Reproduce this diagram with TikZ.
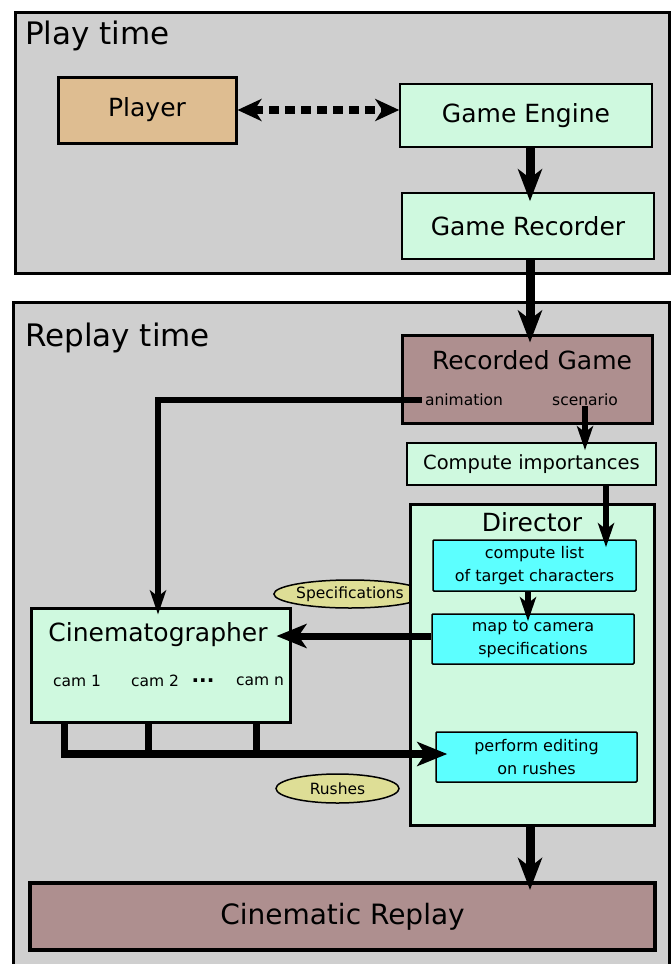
\documentclass[tikz,border=0pt]{standalone}
\usepackage{fontspec}
\setmainfont{DejaVu Sans}
\usetikzlibrary{arrows.meta,positioning,calc,shapes.geometric}

\definecolor{bggray}{HTML}{CFCFCF}
\definecolor{playertan}{HTML}{DEBD91}
\definecolor{mint}{HTML}{CFF9DF}
\definecolor{mauve}{HTML}{AE8F8F}
\definecolor{aqua}{HTML}{5CFFFF}
\definecolor{khaki}{HTML}{DEDE96}

\newcommand{\fsz}[1]{\fontsize{#1}{#1}\selectfont}

\begin{document}
\begin{tikzpicture}[x=1pt, y=-1pt, font=\fsz{25},
    every node/.style={inner sep=0pt},
    greenbox/.style={draw=black, fill=mint, line width=1.5pt},
    taskbox/.style={draw=black, fill=aqua, line width=1.5pt, rounded corners=1pt, font=\fontsize{16}{23}\selectfont, align=center},
    gamebox/.style={draw=black, fill=mauve, line width=3pt},
    bubble/.style={ellipse, draw=black, fill=khaki, line width=1.5pt, minimum width=123pt, minimum height=28pt, font=\fsz{15.5}},
    bigconn/.style={line width=9pt, -{Stealth[length=32pt,width=24pt,inset=9pt]}, shorten >=-9pt},
    conn/.style={line width=6pt, -{Stealth[length=24pt,width=16pt,inset=6pt]}, shorten >=-8pt},
    busline/.style={line width=7.5pt},
    dotconn/.style={line width=8pt, dash pattern=on 10pt off 6pt, {Stealth[length=24pt,width=22pt,inset=7pt]}-{Stealth[length=24pt,width=22pt,inset=7pt]}}]
  \useasboundingbox (0,0) rectangle (672,964);
  \clip (0,0) rectangle (672,964);

  % play time
  \draw[line width=3pt, fill=bggray] (15,12) rectangle (669,273);
  \node[anchor=west, font=\fsz{31}] (playlbl) at (25,36) {Play time};
  \node[draw=black, fill=playertan, line width=3pt, minimum width=178pt, minimum height=66pt] (player) at (147,110) {Player};
  \node[greenbox, minimum width=252pt, minimum height=63pt] (engine) at (526,115.5) {Game Engine};
  \node[greenbox, minimum width=252pt, minimum height=66pt] (recorder) at (528,226) {Game Recorder};

  % replay time
  \draw[line width=3pt, fill=bggray] (13,302) rectangle (669,990);
  \node[anchor=west, font=\fsz{31}] (replaylbl) at (25,338) {Replay time};
  \node[gamebox, minimum width=250pt, minimum height=88pt] (recgame) at (527,379) {};
  \node (recgamelbl) at (532,360) {Recorded Game};
  \node[font=\fsz{15.5}] (anim) at (464,400) {animation};
  \node[font=\fsz{15.5}] (scen) at (585,400) {scenario};
  \node[greenbox, minimum width=249pt, minimum height=42pt, font=\fsz{19.5}] (importances) at (531.5,464) {Compute importances};

  \node[bubble, minimum width=125pt] (spec) at (350,594) {Specifications};
  \node[bubble, minimum height=29pt] (rushes) at (337.5,788.5) {Rushes};

  \node[draw=black, fill=mint, line width=3pt, minimum width=244pt, minimum height=321pt] (director) at (532,664.5) {};
  \node (directorlbl) at (532,522) {Director};
  \node[taskbox, minimum width=203pt, minimum height=51pt] (complist) at (534.5,565.5) {compute list\\of target characters};
  \node[taskbox, minimum width=202pt, minimum height=50pt] (mapcam) at (533,639) {map to camera\\specifications};
  \node[taskbox, minimum width=201pt, minimum height=50pt] (editing) at (536.5,757) {perform editing\\on rushes};

  \node[draw=black, fill=mint, line width=3pt, minimum width=259pt, minimum height=114pt] (cinemato) at (160.5,665) {};
  \node (cinematolbl) at (158,635) {Cinematographer};
  \node[font=\fsz{15.5}] (cam1) at (77,681) {cam 1};
  \node[font=\fsz{15.5}] (cam2) at (155,681) {cam 2};
  \node[font=\bfseries\fsz{20}] (camdots) at (203,681) {...};
  \node[font=\fsz{15.5}] (camn) at (260,681) {cam n};

  \node[gamebox, line width=4pt, minimum width=625pt, minimum height=67pt, font=\fsz{28}] (replay) at (342.5,916.5) {Cinematic Replay};

  % connectors
  \draw[dotconn] (player.east) -- (player.east -| engine.west);
  \draw[bigconn] ([xshift=4pt]engine.south) -- ([xshift=2pt]recorder.north);
  \draw[bigconn] ([xshift=2pt]recorder.south) -- ([xshift=3pt]recgame.north);
  \draw[conn] ([xshift=-3pt]anim.west) -| ([xshift=-2.5pt]cinemato.north);
  \draw[conn] (scen.south) -- (scen.south |- importances.north);
  \draw[conn] ([xshift=74.5pt]importances.south) -- ([xshift=71.5pt]complist.north);
  \draw[conn] ([xshift=-6.5pt]complist.south) -- ([xshift=-5pt]mapcam.north);
  \draw[conn, line width=7pt, -{Stealth[length=30pt,width=24pt,inset=8pt]}, shorten >=-15pt] ([yshift=3pt]mapcam.west) -- ([yshift=3pt]mapcam.west -| cinemato.east);
  \foreach \dx in {119,227}
    \draw[busline] ([xshift=\dx pt]cinemato.south west) -- ++(0,32);
  \draw[busline, -{Stealth[length=30pt,width=24pt,inset=8pt]}, shorten >=-12pt] ([xshift=35pt]cinemato.south west) |- ([yshift=3pt]editing.west);
  \draw[bigconn] ([xshift=-2pt]director.south) -- ([xshift=-2pt]director.south |- replay.north);
\end{tikzpicture}
\end{document}
